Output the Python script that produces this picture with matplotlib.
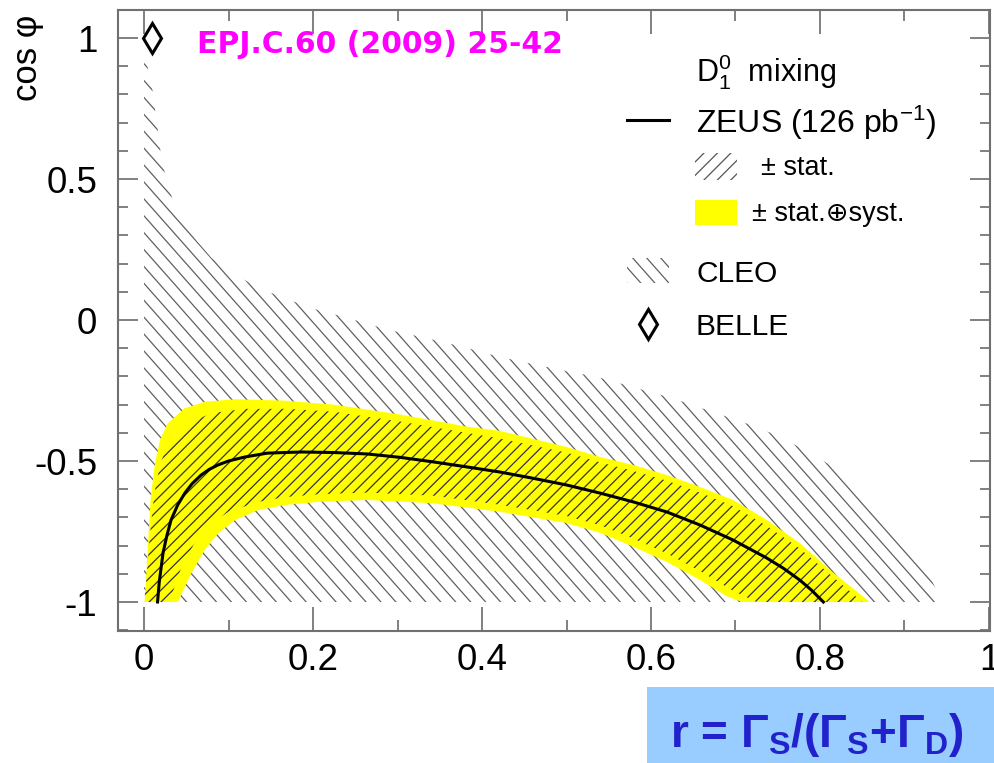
import numpy as np
import matplotlib
matplotlib.use("Agg")
import matplotlib.pyplot as plt
from matplotlib.patches import Polygon, Rectangle
from matplotlib.collections import LineCollection
from matplotlib.transforms import IdentityTransform
from matplotlib.ticker import MultipleLocator

plt.rcParams["font.family"] = ["Liberation Sans", "DejaVu Sans"]
plt.rcParams["mathtext.fontset"] = "custom"
plt.rcParams["mathtext.rm"] = "Liberation Sans"
plt.rcParams["mathtext.it"] = "Liberation Sans:italic"
plt.rcParams["mathtext.bf"] = "Liberation Sans:bold"
plt.rcParams["axes.unicode_minus"] = False

# ZEUS central curve: cos(phi) versus r
zeus_r = [0.016, 0.018, 0.0225, 0.027, 0.032, 0.04, 0.0485, 0.057, 0.0675,
          0.077, 0.0875, 0.1, 0.119, 0.146, 0.186, 0.225, 0.264, 0.303, 0.342,
          0.38, 0.421, 0.46, 0.5, 0.54, 0.579, 0.619, 0.658, 0.697, 0.737,
          0.757, 0.776, 0.79, 0.804]
zeus_c = [-1.0, -0.93, -0.826, -0.765, -0.709, -0.655, -0.613, -0.58, -0.55,
          -0.53, -0.514, -0.5, -0.486, -0.472, -0.468, -0.47, -0.475, -0.487,
          -0.503, -0.52, -0.539, -0.561, -0.585, -0.614, -0.645, -0.681,
          -0.727, -0.780, -0.844, -0.881, -0.922, -0.958, -1.0]

# statistical band (upper / lower edges)
stat_hi_r = [0.0, 0.002, 0.007, 0.012, 0.019, 0.03, 0.05, 0.08, 0.12, 0.17,
             0.224, 0.303, 0.382, 0.421, 0.5, 0.54, 0.579, 0.619, 0.658, 0.697,
             0.737, 0.776, 0.815, 0.85]
stat_hi_c = [-1.0, -0.95, -0.76, -0.62, -0.51, -0.43, -0.37, -0.33, -0.315,
             -0.315, -0.325, -0.36, -0.40, -0.42, -0.47, -0.505, -0.535, -0.57,
             -0.612, -0.66, -0.73, -0.81, -0.91, -1.0]
stat_lo_r = [0.03, 0.045, 0.06, 0.08, 0.1, 0.135, 0.167, 0.206, 0.264, 0.342,
             0.421, 0.5, 0.54, 0.579, 0.619, 0.658, 0.697, 0.725]
stat_lo_c = [-1.0, -0.87, -0.79, -0.72, -0.68, -0.645, -0.628, -0.618, -0.612,
             -0.623, -0.655, -0.695, -0.728, -0.775, -0.828, -0.89, -0.96, -1.0]

# statistical (+) systematic band
syst_hi_r = [0.0, 0.001, 0.005, 0.008, 0.013, 0.019, 0.028, 0.048, 0.072,
             0.108, 0.167, 0.224, 0.303, 0.382, 0.421, 0.5, 0.54, 0.579, 0.619,
             0.658, 0.697, 0.737, 0.776, 0.815, 0.859]
syst_hi_c = [-1.0, -0.993, -0.78, -0.627, -0.507, -0.425, -0.366, -0.313,
             -0.29, -0.281, -0.286, -0.30, -0.335, -0.378, -0.393, -0.45,
             -0.486, -0.514, -0.55, -0.592, -0.638, -0.709, -0.791, -0.894, -1.0]
syst_lo_r = [0.040, 0.056, 0.072, 0.0875, 0.108, 0.135, 0.167, 0.206, 0.264,
             0.342, 0.421, 0.5, 0.54, 0.579, 0.619, 0.658, 0.69, 0.708]
syst_lo_c = [-1.0, -0.898, -0.815, -0.757, -0.709, -0.674, -0.656, -0.645,
             -0.638, -0.65, -0.68, -0.72, -0.755, -0.804, -0.858, -0.922,
             -0.98, -1.0]

# CLEO allowed region (upper boundary, closed along cos(phi) = -1)
cleo_r = [0.0, 0.0, 0.008, 0.012, 0.014, 0.018, 0.02, 0.027, 0.037, 0.06,
          0.08, 0.108, 0.141, 0.167, 0.193, 0.241, 0.289, 0.334, 0.377, 0.421,
          0.466, 0.511, 0.534, 0.625, 0.673, 0.725, 0.755, 0.786, 0.826, 0.92,
          0.945]
cleo_c = [-1.0, 0.95, 0.85, 0.78, 0.716, 0.645, 0.578, 0.493, 0.397, 0.29,
          0.22, 0.16, 0.106, 0.078, 0.046, 0.007, -0.035, -0.064, -0.095,
          -0.131, -0.16, -0.188, -0.20, -0.277, -0.326, -0.379, -0.418,
          -0.468, -0.539, -0.85, -1.0]

# BELLE point
belle_r = [0.01]
belle_c = [1.0]

x_ticks = [0, 0.2, 0.4, 0.6, 0.8, 1]
x_tick_labels = ["0", "0.2", "0.4", "0.6", "0.8", "1"]
y_ticks = [-1, -0.5, 0, 0.5, 1]
y_tick_labels = ["-1", "-0.5", "0", "0.5", "1"]

W, H, DPI = 994, 763, 100
fig = plt.figure(figsize=(W / DPI, H / DPI), dpi=DPI)
fig.patch.set_facecolor("white")

AX_L, AX_R, AX_T, AX_B = 118, 990, 10, 631
ax = fig.add_axes([AX_L / W, 1 - AX_B / H, (AX_R - AX_L) / W, (AX_B - AX_T) / H])
ax.set_xlim(-0.0308, 1.0012)
ax.set_ylim(-1.1028, 1.0993)


def axx(px):
    return (px - AX_L) / (AX_R - AX_L)


def axy(py):
    return (AX_B - py) / (AX_B - AX_T)


def hatch_fill(patch, angle_deg, spacing, color, lw, zorder):
    """Fill a patch with parallel lines in screen space, clipped to the patch."""
    verts = patch.get_transform().transform(patch.get_path().vertices)
    x0, y0 = verts.min(axis=0)
    x1, y1 = verts.max(axis=0)
    th = np.deg2rad(angle_deg)
    d = np.array([np.cos(th), np.sin(th)])
    n = np.array([-np.sin(th), np.cos(th)])
    corners = np.array([[x0, y0], [x0, y1], [x1, y0], [x1, y1]])
    proj = corners @ n
    k0 = np.floor(proj.min() / spacing)
    k1 = np.ceil(proj.max() / spacing)
    length = np.hypot(x1 - x0, y1 - y0) + 10
    c = np.array([(x0 + x1) / 2, (y0 + y1) / 2])
    segs = []
    for k in np.arange(k0, k1 + 1):
        off = k * spacing
        p = c + n * (off - c @ n)
        segs.append([p - d * length, p + d * length])
    lc = LineCollection(segs, colors=color, linewidths=lw,
                        transform=IdentityTransform(), zorder=zorder)
    ax.add_collection(lc, autolim=False)
    lc.set_clip_path(patch)
    return lc


# CLEO hatched region
cleo_poly = Polygon(np.column_stack([cleo_r, cleo_c]), closed=True,
                    facecolor="none", edgecolor="none", zorder=1)
ax.add_patch(cleo_poly)
hatch_fill(cleo_poly, -48.5, 11.2, "#606060", 0.9, 1)

# stat (+) syst yellow band
band_r = np.concatenate([syst_hi_r, syst_lo_r[::-1]])
band_c = np.concatenate([syst_hi_c, syst_lo_c[::-1]])
ax.fill(band_r, band_c, color="#ffff00", lw=0, zorder=2)

# statistical hatched band
stat_poly = Polygon(np.column_stack([np.concatenate([stat_hi_r, stat_lo_r[::-1]]),
                                     np.concatenate([stat_hi_c, stat_lo_c[::-1]])]),
                    closed=True, facecolor="none", edgecolor="none", zorder=3)
ax.add_patch(stat_poly)
hatch_fill(stat_poly, 45, 8.4, "#333333", 0.9, 3)

# ZEUS central value
ax.plot(zeus_r, zeus_c, color="black", lw=2.2, zorder=4, solid_joinstyle="round")

# BELLE
ax.plot(belle_r, belle_c, linestyle="none", marker="d", ms=15, mfc="white",
        mec="black", mew=2.2, zorder=5, clip_on=False)

# axes styling
frame_col = "#707070"
for sp in ax.spines.values():
    sp.set_color(frame_col)
    sp.set_linewidth(1.5)
ax.set_xticks(x_ticks)
ax.set_xticklabels(x_tick_labels)
ax.set_yticks(y_ticks)
ax.set_yticklabels(y_tick_labels)
ax.xaxis.set_minor_locator(MultipleLocator(0.1))
ax.yaxis.set_minor_locator(MultipleLocator(0.1))
ax.tick_params(which="both", direction="in", top=True, right=True,
               color="#808080", width=1.4, labelsize=26.5)
ax.tick_params(axis="x", which="major", length=17, pad=9)
ax.tick_params(axis="x", which="minor", length=8)
ax.tick_params(axis="y", which="major", length=14.5, pad=15)
ax.tick_params(axis="y", which="minor", length=7.2)

# axis title
fig.text(27 / W, 1 - 15 / H, "cos φ", rotation=90, ha="center", va="top",
         fontsize=25)

# publication reference
fig.text(197 / W, 1 - 53 / H, "EPJ.C.60 (2009) 25-42", color="#ff00ff",
         fontsize=21.5, fontweight="bold", family="DejaVu Sans", va="baseline")

# legend
tr = ax.transAxes
ax.text(axx(696), axy(82), r"D$^{\mathrm{0}}_{\mathrm{1}}$  mixing", transform=tr,
        fontsize=22, va="baseline", ha="left")
ax.plot([axx(627), axx(669)], [axy(120), axy(120)], transform=tr,
        color="black", lw=2.2, clip_on=False)
ax.text(axx(696), axy(133), r"ZEUS (126 pb$^{\mathrm{-1}}$)", transform=tr,
        fontsize=23, va="baseline", ha="left")

leg_stat = Rectangle((axx(695), axy(180)), axx(737) - axx(695), axy(153) - axy(180),
                     transform=tr, facecolor="none", edgecolor="none")
ax.add_patch(leg_stat)
hatch_fill(leg_stat, 45, 9.5, "#555555", 0.9, 3)
ax.text(axx(761), axy(175), "± stat.", transform=tr, fontsize=19.5,
        va="baseline", ha="left")

ax.add_patch(Rectangle((axx(695), axy(225)), axx(737) - axx(695), axy(200) - axy(225),
                       transform=tr, facecolor="#ffff00", edgecolor="none"))
ax.text(axx(752), axy(221), "± stat.⊕syst.", transform=tr, fontsize=19.5,
        va="baseline", ha="left")

leg_cleo = Rectangle((axx(627), axy(283)), axx(669) - axx(627), axy(258) - axy(283),
                     transform=tr, facecolor="none", edgecolor="none")
ax.add_patch(leg_cleo)
hatch_fill(leg_cleo, -48.5, 10.5, "#606060", 0.9, 3)
ax.text(axx(696), axy(282), "CLEO", transform=tr, fontsize=21.5,
        va="baseline", ha="left")

ax.plot([axx(648)], [axy(324)], transform=tr, linestyle="none", marker="d",
        ms=15, mfc="white", mec="black", mew=2.2, clip_on=False)
ax.text(axx(696), axy(335), "BELLE", transform=tr, fontsize=21.5,
        va="baseline", ha="left")

# variable definition box
fig.patches.append(Rectangle((647 / W, 0), (W - 647) / W, 76 / H,
                             transform=fig.transFigure, facecolor="#99ccff",
                             edgecolor="none"))
fig.text(670 / W, 1 - 747 / H,
         r"r = Γ$_\mathbf{S}$/(Γ$_\mathbf{S}$+Γ$_\mathbf{D}$)",
         color="#2222cc", fontsize=33, fontweight="bold",
         family="Liberation Sans", va="baseline", ha="left")

fig.savefig("out.png", dpi=DPI)
